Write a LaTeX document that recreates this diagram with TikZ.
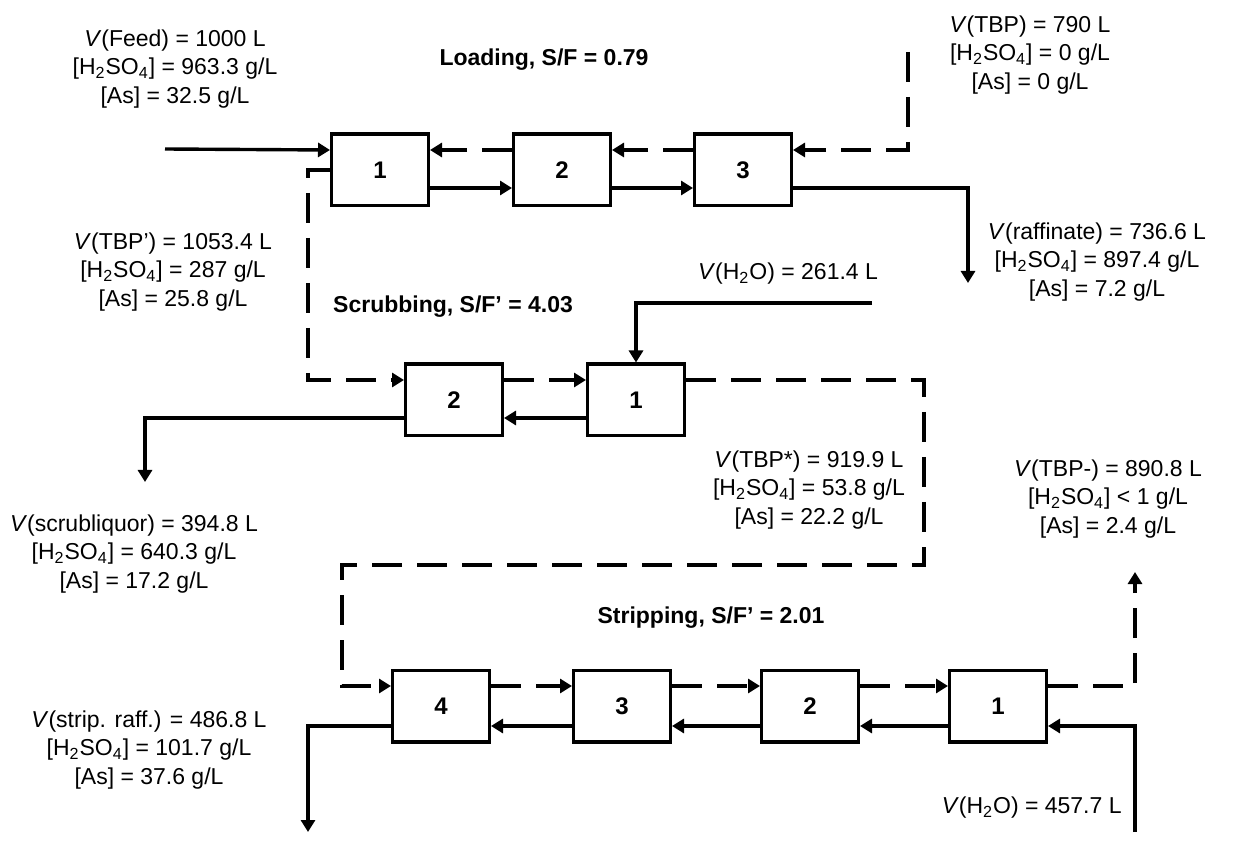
\documentclass[tikz,border=0pt]{standalone}
\usepackage{fontspec}
\setmainfont{Liberation Sans}
\usetikzlibrary{arrows.meta,calc}
\begin{document}
\begin{tikzpicture}[x=0.5pt,y=-0.5pt,
  stage/.style={draw,line width=1.7pt,minimum width=48.3pt,minimum height=35.8pt,inner sep=0pt,font=\bfseries\fontsize{12}{14}\selectfont},
  flow/.style={line width=1.7pt,-{Triangle[length=6pt,width=7pt]}},
  orgline/.style={dash pattern=on 15pt off 7.5pt},
  lbl/.style={align=center,font=\fontsize{11.5}{14.25}\selectfont,inner sep=0pt},
  ttl/.style={font=\bfseries\fontsize{11.5}{14}\selectfont,inner sep=0pt}]
\useasboundingbox (0,0) rectangle (1237,844);

% stages
\node[stage] (L1) at (380,170) {1};
\node[stage] (L2) at (562,170) {2};
\node[stage] (L3) at (743,170) {3};
\node[stage] (S2) at (454,400) {2};
\node[stage] (S1) at (636,400) {1};
\node[stage] (T4) at (441,706) {4};
\node[stage] (T3) at (622,706) {3};
\node[stage] (T2) at (810,706) {2};
\node[stage] (T1) at (998,706) {1};

% titles
\node[ttl] (tL) at (544,60) {Loading, S/F = 0.79};
\node[ttl] (tS) at (453,307) {Scrubbing, S/F’ = 4.03};
\node[ttl] (tT) at (711,618) {Stripping, S/F’ = 2.01};

% labels
\node[lbl] (feed) at (175,69) {\textit{V}(Feed) = 1000 L\\{}[H\textsubscript{2}SO\textsubscript{4}] = 963.3 g/L\\{}[As] = 32.5 g/L};
\node[lbl] (tbp) at (1030,55) {\textit{V}(TBP) = 790 L\\{}[H\textsubscript{2}SO\textsubscript{4}] = 0 g/L\\{}[As] = 0 g/L};
\node[lbl] (raffl) at (1097,262) {\textit{V}(raffinate) = 736.6 L\\{}[H\textsubscript{2}SO\textsubscript{4}] = 897.4 g/L\\{}[As] = 7.2 g/L};
\node[lbl] (tbpp) at (173,272) {\textit{V}(TBP’) = 1053.4 L\\{}[H\textsubscript{2}SO\textsubscript{4}] = 287 g/L\\{}[As] = 25.8 g/L};
\node[lbl] (h2oa) at (788,274) {\textit{V}(H\textsubscript{2}O) = 261.4 L};
\node[lbl] (tbps) at (809,490) {\textit{V}(TBP*) = 919.9 L\\{}[H\textsubscript{2}SO\textsubscript{4}] = 53.8 g/L\\{}[As] = 22.2 g/L};
\node[lbl] (tbpm) at (1108,499) {\textit{V}(TBP-) = 890.8 L\\{}[H\textsubscript{2}SO\textsubscript{4}] < 1 g/L\\{}[As] = 2.4 g/L};
\node[lbl] (scl) at (134,554) {\textit{V}(scrubliquor) = 394.8 L\\{}[H\textsubscript{2}SO\textsubscript{4}] = 640.3 g/L\\{}[As] = 17.2 g/L};
\node[lbl] (srl) at (149,750) {\textit{V}(strip. raff.) = 486.8 L\\{}[H\textsubscript{2}SO\textsubscript{4}] = 101.7 g/L\\{}[As] = 37.6 g/L};
\node[lbl,anchor=east] (h2ob) at (1122,808) {\textit{V}(H\textsubscript{2}O) = 457.7 L};

% coordinates
\coordinate (feedin) at (165,149);
\coordinate (tbpin) at (908,52);
\coordinate (raff) at (968,283);
\coordinate (c1) at (308,380);
\coordinate (w1) at (872,303);
\coordinate (sl) at (145,482);
\coordinate (c2) at (924,565);
\coordinate (c3) at (342,565);
\coordinate (tbpout) at (1135,572);
\coordinate (w2) at (1135,832);
\coordinate (sr) at (308,832);

% loading
\draw[flow] (feedin) -- ([yshift=10pt]L1.west);
\draw[flow,orgline] ([yshift=10pt]L2.west) -- ([yshift=10pt]L1.east);
\draw[flow,orgline] ([yshift=10pt]L3.west) -- ([yshift=10pt]L2.east);
\draw[flow,orgline] (tbpin) |- ([yshift=10pt]L3.east);
\draw[flow] ([yshift=-9pt]L1.east) -- ([yshift=-9pt]L2.west);
\draw[flow] ([yshift=-9pt]L2.east) -- ([yshift=-9pt]L3.west);
\draw[flow] ([yshift=-9pt]L3.east) -| (raff);

% loaded organic to scrubbing
\draw[flow,orgline] (L1.west) -| (c1) -- ([yshift=10pt]S2.west);

% scrubbing
\draw[flow] (w1) -| (S1.north);
\draw[flow,orgline] ([yshift=10pt]S2.east) -- ([yshift=10pt]S1.west);
\draw[flow] ([yshift=-9pt]S1.west) -- ([yshift=-9pt]S2.east);
\draw[flow] ([yshift=-9pt]S2.west) -| (sl);

% scrubbed organic to stripping
\draw[flow,orgline] ([yshift=10pt]S1.east) -| (c2) -- (c3) |- ([yshift=10pt]T4.west);

% stripping
\draw[flow,orgline] ([yshift=10pt]T4.east) -- ([yshift=10pt]T3.west);
\draw[flow,orgline] ([yshift=10pt]T3.east) -- ([yshift=10pt]T2.west);
\draw[flow,orgline] ([yshift=10pt]T2.east) -- ([yshift=10pt]T1.west);
\draw[flow,orgline] ([yshift=10pt]T1.east) -| (tbpout);
\draw[flow] (w2) |- ([yshift=-10pt]T1.east);
\draw[flow] ([yshift=-10pt]T1.west) -- ([yshift=-10pt]T2.east);
\draw[flow] ([yshift=-10pt]T2.west) -- ([yshift=-10pt]T3.east);
\draw[flow] ([yshift=-10pt]T3.west) -- ([yshift=-10pt]T4.east);
\draw[flow] ([yshift=-10pt]T4.west) -| (sr);
\end{tikzpicture}
\end{document}
